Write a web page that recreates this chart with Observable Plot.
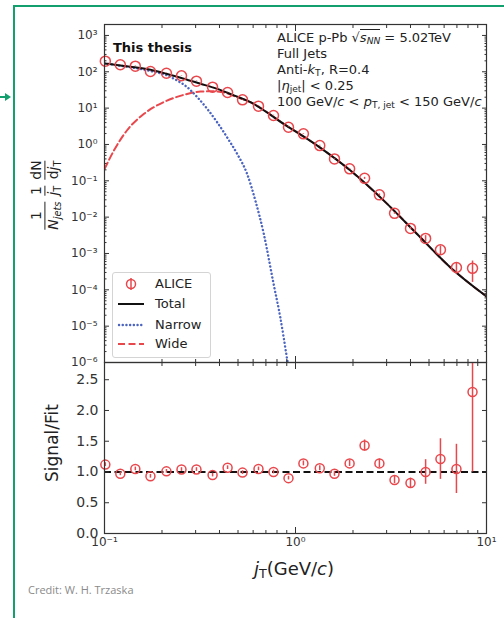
<!DOCTYPE html>
<html><head><meta charset="utf-8">
<script src="https://cdn.jsdelivr.net/npm/d3@7"></script>
<script src="https://cdn.jsdelivr.net/npm/@observablehq/plot@0.6"></script>
<style>
body{margin:0;background:#fff;}
#wrap{position:relative;width:504px;height:618px;overflow:hidden;background:#fff;font-family:"DejaVu Sans",sans-serif;color:#222;}
#border{position:absolute;left:13px;top:5px;width:500px;height:620px;border-left:2px solid #14a06e;border-top:2px solid #14a06e;}
#arrowline{position:absolute;left:0;top:96px;width:6px;height:2px;background:#14a06e;}
#arrowhead{position:absolute;left:5px;top:93px;width:0;height:0;border-top:4px solid transparent;border-bottom:4px solid transparent;border-left:6px solid #14a06e;}
.abs{position:absolute;white-space:nowrap;}
#ann{left:277px;top:30px;font-size:13px;line-height:16px;color:#222;}
#thesis{left:113px;top:40px;font-size:13px;font-weight:bold;color:#111;}
.ov{border-top:1px solid #222;padding-top:0px;}
sub{font-size:70%;vertical-align:-0.25em;line-height:0;}
#ylab1{left:45px;top:195px;transform:translate(-50%,-50%) rotate(-90deg);font-size:14px;color:#222;display:flex;align-items:center;gap:6px;}
.frac{display:inline-flex;flex-direction:column;align-items:stretch;text-align:center;line-height:1.15;}
.frac .den{border-top:1px solid #222;}
#ylab2{left:52px;top:443px;transform:translate(-50%,-50%) rotate(-90deg);font-size:17px;color:#222;}
#xlab{left:294px;top:568px;transform:translate(-50%,-50%);font-size:18px;color:#222;}
#credit{left:28px;top:582px;font-family:"Open Sans",sans-serif;font-size:11px;color:#8a8a8a;}
#legend{position:absolute;left:112px;top:272px;width:97px;height:84px;border:1px solid #d4d4d4;border-radius:3px;background:rgba(255,255,255,0.85);font-size:13px;color:#222;}
.lrow{position:absolute;left:4px;height:16px;line-height:16px;display:flex;align-items:center;white-space:nowrap;}
.lrow svg{margin-right:10px;}
</style></head><body>
<div id="wrap">
  <div id="border"></div>
  <div id="arrowline"></div><div id="arrowhead"></div>
  <div id="top" class="abs" style="left:0;top:0"></div>
  <div id="bottom" class="abs" style="left:0;top:362px"></div>
  <div id="thesis" class="abs">This thesis</div>
  <div id="ann" class="abs">
    <div>ALICE p-Pb √<span class="ov"><i>s</i><sub><i>NN</i></sub></span> = 5.02TeV</div>
    <div>Full Jets</div>
    <div>Anti-<i>k</i><sub>T</sub>, R=0.4</div>
    <div>|<i>η</i><sub>jet</sub>| &lt; 0.25</div>
    <div>100 GeV/<i>c</i> &lt; <i>p</i><sub>T, jet</sub> &lt; 150 GeV/<i>c</i></div>
  </div>
  <div id="legend"></div>
  <div id="ylab1" class="abs">
    <span class="frac"><span class="num">1</span><span class="den"><i>N<sub>jets</sub></i></span></span>
    <span class="frac"><span class="num">1</span><span class="den"><i>j</i><sub>T</sub></span></span>
    <span class="frac"><span class="num">dN</span><span class="den">d<i>j</i><sub>T</sub></span></span>
  </div>
  <div id="ylab2" class="abs">Signal/Fit</div>
  <div id="xlab" class="abs"><i>j</i><sub>T</sub>(GeV/<i>c</i>)</div>
  <div id="credit" class="abs">Credit: W. H. Trzaska</div>
</div>
<script>
// ---- data ----
const jt = [0.101,0.121,0.145,0.174,0.211,0.253,0.303,0.368,0.441,0.528,0.640,0.767,0.919,1.10,1.34,1.60,1.92,2.30,2.75,3.30,4.00,4.80,5.74,6.96,8.45];
const yields = [196,156,143,102,91.4,77.6,55.1,37.7,26.9,16.9,11.3,6.25,2.98,1.96,0.93,0.40,0.213,0.117,0.041,0.0127,0.0049,0.0026,0.00127,0.00041,0.00039];
const yieldErr = [3,2.5,2.2,1.6,1.4,1.2,0.9,0.6,0.45,0.3,0.2,0.12,0.06,0.04,0.02,0.009,0.006,0.0074,0.0025,0.0007,0.0004,0.0005,0.00034,0.00014,0.00023];
const ratio = [1.12,0.97,1.05,0.93,1.01,1.04,1.04,0.95,1.07,0.99,1.05,1.00,0.90,1.14,1.06,0.97,1.14,1.43,1.14,0.87,0.82,1.00,1.21,1.05,2.30];
const ratioErr = [0.03,0.03,0.03,0.03,0.03,0.03,0.03,0.03,0.03,0.03,0.03,0.03,0.03,0.04,0.04,0.04,0.05,0.09,0.07,0.06,0.08,0.2,0.33,0.4,1.3];

const totalX = [0.1,0.121,0.174,0.213,0.260,0.318,0.389,0.476,0.581,0.867,1.30,1.94,2.90,4.33,6.47,10];
const totalY = [170,148,113.5,87,64.6,46.8,33.9,22.4,14.6,3.69,0.93,0.191,0.0285,0.00344,0.000414,0.000066];
const narrowX = [0.1,0.121,0.174,0.213,0.240,0.271,0.306,0.345,0.389,0.438,0.495,0.558,0.617,0.682,0.768,0.833,0.901,0.91];
const narrowY = [170,147,105,79,57.5,37.7,20,9.55,4.07,1.58,0.55,0.155,0.028,0.0035,1.45e-4,1.74e-5,1.38e-6,1e-6];
const wideX = [0.1,0.112,0.131,0.161,0.204,0.260,0.318,0.374,0.438,0.476,0.581,0.867,1.30,1.94,2.90,4.33,6.47,10];
const wideY = [0.21,0.68,2.42,6.97,14.6,23.2,28.6,29,25.5,21.5,14.5,3.69,0.93,0.191,0.0285,0.00344,0.000414,0.000066];

const yDecades = [1e-6,1e-5,1e-4,1e-3,1e-2,1e-1,1,10,100,1000];
const yDecadeLabels = ["10⁻⁶","10⁻⁵","10⁻⁴","10⁻³","10⁻²","10⁻¹","10⁰","10¹","10²","10³"];
const xDecades = [0.1,1,10];
const xDecadeLabels = ["10⁻¹","10⁰","10¹"];
const rTicks = [0,0.5,1,1.5,2,2.5];
const rTickLabels = ["0.0","0.5","1.0","1.5","2.0","2.5"];
const legendLabels = ["ALICE","Total","Narrow","Wide"];

// ---- styles ----
const red = "#e8474c", blue = "#4a64c0", black = "#111", axisCol = "#333";
const minorOf = decs => decs.slice(0,-1).flatMap(d => [2,3,4,5,6,7,8,9].map(k => +(d*k).toPrecision(3)));
const yMinor = minorOf(yDecades).filter(v => v < 2000);
const xMinor = minorOf(xDecades);

const pts = jt.map((x,i)=>({x, y: yields[i], e: yieldErr[i], r: ratio[i], re: ratioErr[i]}));
const total = totalX.map((x,i)=>({x, y: totalY[i]}));
const narrow = narrowX.map((x,i)=>({x, y: narrowY[i]}));
const wide = wideX.map((x,i)=>({x, y: wideY[i]}));
const fmtMap = (vals, labs) => { const m = new Map(vals.map((v,i)=>[v, labs[i]])); return d => m.get(d) ?? ""; };
const blank = () => "";

const style = {fontFamily: "DejaVu Sans, sans-serif", fontSize: "12px", color: axisCol, background: "transparent", overflow: "visible"};

const topPlot = Plot.plot({
  width: 504, height: 362, marginLeft: 104, marginRight: 18, marginTop: 24, marginBottom: 0,
  style,
  x: {type: "log", domain: [0.1, 10]},
  y: {type: "log", domain: [1e-6, 2000]},
  marks: [
    Plot.line(wide, {x: "x", y: "y", stroke: red, strokeWidth: 2, strokeDasharray: "7,3.5", curve: "monotone-x", clip: true}),
    Plot.line(narrow, {x: "x", y: "y", stroke: blue, strokeWidth: 2.4, strokeDasharray: "0.1,3.6", strokeLinecap: "round", curve: "monotone-x", clip: true}),
    Plot.line(total, {x: "x", y: "y", stroke: black, strokeWidth: 2, curve: "monotone-x", clip: true}),
    Plot.ruleX(pts, {x: "x", y1: d => d.y - d.e, y2: d => d.y + d.e, stroke: red, strokeWidth: 1.5, clip: true}),
    Plot.dot(pts, {x: "x", y: "y", r: 5, stroke: red, strokeWidth: 1.5, fill: "none"}),
    Plot.axisY(yDecades, {anchor: "left", tickSize: 0, tickPadding: 7, tickFormat: fmtMap(yDecades, yDecadeLabels), fontSize: 12, label: null}),
    Plot.axisY(yDecades, {anchor: "left", tickSize: -5, tickFormat: blank, label: null}),
    Plot.axisY(yMinor, {anchor: "left", tickSize: -2.5, tickFormat: blank, label: null}),
    Plot.axisY(yDecades, {anchor: "right", tickSize: -5, tickFormat: blank, label: null}),
    Plot.axisY(yMinor, {anchor: "right", tickSize: -2.5, tickFormat: blank, label: null}),
    Plot.axisX(xDecades, {anchor: "top", tickSize: -6, tickFormat: blank, label: null}),
    Plot.axisX(xMinor, {anchor: "top", tickSize: -3, tickFormat: blank, label: null}),
    Plot.axisX(xDecades, {anchor: "bottom", tickSize: -6, tickFormat: blank, label: null}),
    Plot.axisX(xMinor, {anchor: "bottom", tickSize: -3, tickFormat: blank, label: null}),
    Plot.frame({stroke: axisCol, strokeWidth: 1.2})
  ]
});
document.getElementById("top").append(topPlot);

const botPlot = Plot.plot({
  width: 504, height: 221, marginLeft: 104, marginRight: 18, marginTop: 0, marginBottom: 50,
  style,
  x: {type: "log", domain: [0.1, 10]},
  y: {domain: [0, 2.78]},
  marks: [
    Plot.ruleY([1], {stroke: black, strokeWidth: 2, strokeDasharray: "7,3.5"}),
    Plot.ruleX(pts, {x: "x", y1: d => d.r - d.re, y2: d => d.r + d.re, stroke: red, strokeWidth: 1.5, clip: true}),
    Plot.dot(pts, {x: "x", y: "r", r: 4.5, stroke: red, strokeWidth: 1.5, fill: "none"}),
    Plot.axisY(rTicks, {anchor: "left", tickSize: 0, tickPadding: 6, tickFormat: fmtMap(rTicks, rTickLabels), fontSize: 14, label: null}),
    Plot.axisY(rTicks, {anchor: "left", tickSize: -5, tickFormat: blank, label: null}),
    Plot.axisY(rTicks, {anchor: "right", tickSize: -5, tickFormat: blank, label: null}),
    Plot.axisX(xDecades, {anchor: "bottom", tickSize: 0, tickPadding: 4, tickFormat: fmtMap(xDecades, xDecadeLabels), fontSize: 12, label: null}),
    Plot.axisX(xDecades, {anchor: "bottom", tickSize: -6, tickFormat: blank, label: null}),
    Plot.axisX(xMinor, {anchor: "bottom", tickSize: -3, tickFormat: blank, label: null}),
    Plot.axisX(xDecades, {anchor: "top", tickSize: -6, tickFormat: blank, label: null}),
    Plot.axisX(xMinor, {anchor: "top", tickSize: -3, tickFormat: blank, label: null}),
    Plot.frame({stroke: axisCol, strokeWidth: 1.2})
  ]
});
document.getElementById("bottom").append(botPlot);

// ---- legend ----
const legend = document.getElementById("legend");
const swatches = [
  `<svg width="28" height="16"><line x1="14" x2="14" y1="2" y2="14" stroke="${red}" stroke-width="1.5"/><circle cx="14" cy="8" r="4.5" fill="none" stroke="${red}" stroke-width="1.5"/></svg>`,
  `<svg width="28" height="16"><line x1="1" x2="27" y1="8" y2="8" stroke="${black}" stroke-width="2"/></svg>`,
  `<svg width="28" height="16"><line x1="2" x2="27" y1="8" y2="8" stroke="${blue}" stroke-width="2.4" stroke-dasharray="0.1,3.6" stroke-linecap="round"/></svg>`,
  `<svg width="28" height="16"><line x1="1" x2="27" y1="8" y2="8" stroke="${red}" stroke-width="2" stroke-dasharray="7,3.5"/></svg>`
];
const rowTops = [3, 23, 44, 63];
legendLabels.forEach((lab, i) => {
  const row = document.createElement("div");
  row.className = "lrow";
  row.style.top = rowTops[i] + "px";
  row.innerHTML = swatches[i] + `<span>${lab}</span>`;
  legend.append(row);
});
</script>
</body></html>
